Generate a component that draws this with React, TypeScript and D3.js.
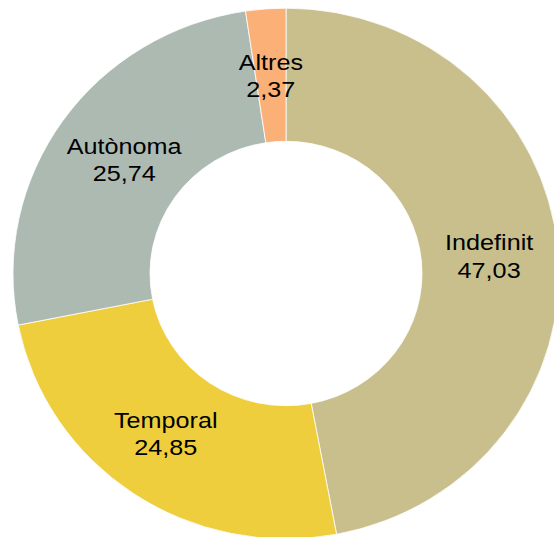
import React from "react";
import * as d3 from "d3";

const categories = ["Indefinit", "Temporal", "Autònoma", "Altres"];
const values = [47.03, 24.85, 25.74, 2.37];
const valueLabels = ["47,03", "24,85", "25,74", "2,37"];
const colors = ["#C8BF8D", "#EECE3D", "#ACBAB2", "#FBB077"];

const W = 554;
const H = 537;
const cx = 286;
const cy = 273.5;
const inner = 136;
const outer = 273;
const squash = 0.972;
const fontSize = 22.3;
const stretch = 1.13;

// small per-label nudges so the labels sit clear of the ring edges
const labelNudge: [number, number][] = [[0, 1], [-6, -4], [5, 0], [0, 0]];

export default function App() {
  const data = categories.map((c, i) => ({ name: c, value: values[i], label: valueLabels[i], color: colors[i] }));
  const pie = d3.pie<any>().value((d) => d.value).sort(null);
  const arcs = pie(data);
  const arc = d3.arc<any>().innerRadius(inner).outerRadius(outer);
  const labelArc = d3.arc<any>().innerRadius(204).outerRadius(204);
  const capH = 0.716 * fontSize;
  const lineGap = 27.5;

  return (
    <svg width={W} height={H} style={{ position: "absolute", left: 0, top: 0 }}>
      <rect width={W} height={H} fill="#fff" />
      <g transform={`translate(${cx},${cy}) scale(1,${squash})`}>
        {arcs.map((a, i) => (
          <path key={i} d={arc(a) as string} fill={a.data.color} stroke="#fff" strokeWidth={0.8} />
        ))}
      </g>
      {arcs.map((a, i) => {
        const [lx, ly] = labelArc.centroid(a);
        const x = cx + lx + labelNudge[i][0];
        const yc = cy + ly * squash + labelNudge[i][1];
        const first = yc - (capH + lineGap) / 2 + capH;
        return (
          <text
            key={i}
            transform={`translate(${x},${first}) scale(${stretch},1)`}
            textAnchor="middle"
            fontFamily="'Liberation Sans', Arial, sans-serif"
            fontSize={fontSize}
            fill="#000"
          >
            <tspan x={0} y={0}>{a.data.name}</tspan>
            <tspan x={0} y={lineGap}>{a.data.label}</tspan>
          </text>
        );
      })}
    </svg>
  );
}
